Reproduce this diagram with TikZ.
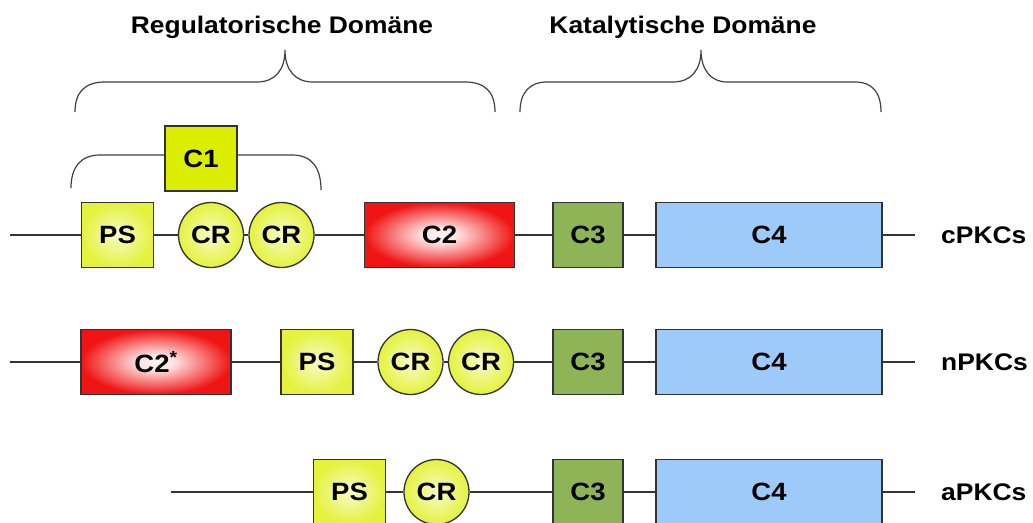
\documentclass[tikz,border=0pt]{standalone}
\usepackage{fontspec}
\setmainfont[FakeStretch=1.1]{Liberation Sans}
\newcommand\lbl{\fontsize{24}{28}\selectfont\bfseries}
\newcommand\boxlbl{\fontsize{25}{29}\selectfont\bfseries}
\definecolor{redo}{RGB}{240,20,20}
\definecolor{ylwo}{RGB}{228,242,60}
\pgfdeclareradialshading{redglow}{\pgfpoint{0bp}{0bp}}{color(0bp)=(red!4!white); color(6bp)=(red!12!white); color(25bp)=(redo); color(50bp)=(redo)}
\pgfdeclareradialshading{ylwglow}{\pgfpoint{0bp}{0bp}}{color(0bp)=(ylwo!25!white); color(6bp)=(ylwo!45!white); color(25bp)=(ylwo); color(50bp)=(ylwo)}
\tikzset{
  base/.style={draw=black!80, line width=1.3pt, inner sep=0pt, font=\boxlbl},
  ylw/.style={base, shading=ylwglow},
  psbox/.style={ylw, minimum width=72pt, minimum height=65pt},
  crcirc/.style={ylw, circle, minimum size=65pt},
  cbox/.style={base, fill={rgb,255:red,220;green,238;blue,0}, minimum width=72pt, minimum height=65pt},
  redbox/.style={base, shading=redglow, minimum width=150pt, minimum height=65pt},
  grnbox/.style={base, fill={rgb,255:red,143;green,180;blue,88}, minimum width=70pt, minimum height=65pt},
  blubox/.style={base, fill={rgb,255:red,158;green,202;blue,250}, minimum width=226pt, minimum height=65pt},
  conn/.style={draw=black!80, line width=1.3pt},
  brace/.style={draw=black!75, line width=1.2pt},
  rowlbl/.style={font=\lbl, anchor=west, inner sep=0pt},
  title/.style={font=\lbl, anchor=base, inner sep=0pt}
}
\begin{document}
\begin{tikzpicture}[x=1pt,y=-1pt]
\useasboundingbox (0,0) rectangle (1033,522);
\clip (0,0) rectangle (1033,522);
\fill[white] (0,0) rectangle (1033,522);

% titles
\node[title] (treg) at (282,33) {Regulatorische Domäne};
\node[title] (tkat) at (683,33) {Katalytische Domäne};

% big braces
\draw[brace] (75,112) .. controls (75,92) and (85,82) .. (105,82) -- (257,82)
  .. controls (275,82) and (285,70) .. (285,50)
  .. controls (285,70) and (295,82) .. (313,82) -- (465,82)
  .. controls (485,82) and (495,92) .. (495,112);
\draw[brace] (520,112) .. controls (520,92) and (530,82) .. (547,82) -- (673,82)
  .. controls (691,82) and (701,70) .. (701,50)
  .. controls (701,70) and (711,82) .. (727,82) -- (855,82)
  .. controls (872,82) and (881,92) .. (881,112);

% row 1
\coordinate (s1) at (10,235);
\coordinate (e1) at (915,235);
\node[cbox] (C1) at (201,158.5) {C1};
\node[psbox] (PS1) at (117.5,235) {PS};
\node[crcirc] (CR1a) at (211,235) {CR};
\node[crcirc] (CR1b) at (281.5,235) {CR};
\node[redbox] (C2a) at (439.5,235) {C2};
\node[grnbox] (C3a) at (588,235) {C3};
\node[blubox] (C4a) at (769,235) {C4};
\node[rowlbl] (L1) at (941,235) {cPKCs};
\draw[conn] (s1) -- (PS1);
\draw[conn] (PS1) -- (CR1a);
\draw[conn] (CR1a) -- (CR1b);
\draw[conn] (CR1b) -- (C2a);
\draw[conn] (C2a) -- (C3a);
\draw[conn] (C3a) -- (C4a);
\draw[conn] (C4a) -- (e1);
% C1 bracket
\draw[brace] (71,188) .. controls (71,168) and (80,155) .. (100,155) -- (C1.west |- 0,155);
\draw[brace] (C1.east |- 0,155) -- (292,155) .. controls (312,155) and (321,168) .. (321,190);

% row 2
\coordinate (s2) at (10,362);
\coordinate (e2) at (915,362);
\node[redbox] (C2b) at (156,362) {C2\textsuperscript{*}};
\node[psbox] (PS2) at (317,362) {PS};
\node[crcirc] (CR2a) at (410.5,362) {CR};
\node[crcirc] (CR2b) at (481,362) {CR};
\node[grnbox] (C3b) at (588,362) {C3};
\node[blubox] (C4b) at (769,362) {C4};
\node[rowlbl] (L2) at (941,362) {nPKCs};
\draw[conn] (s2) -- (C2b);
\draw[conn] (C2b) -- (PS2);
\draw[conn] (PS2) -- (CR2a);
\draw[conn] (CR2a) -- (CR2b);
\draw[conn] (CR2b) -- (C3b);
\draw[conn] (C3b) -- (C4b);
\draw[conn] (C4b) -- (e2);

% row 3
\coordinate (s3) at (171,492);
\coordinate (e3) at (915,492);
\node[psbox] (PS3) at (349.5,492) {PS};
\node[crcirc] (CR3) at (436.5,492) {CR};
\node[grnbox] (C3c) at (588,492) {C3};
\node[blubox] (C4c) at (769,492) {C4};
\node[rowlbl] (L3) at (941,492) {aPKCs};
\draw[conn] (s3) -- (PS3);
\draw[conn] (PS3) -- (CR3);
\draw[conn] (CR3) -- (C3c);
\draw[conn] (C3c) -- (C4c);
\draw[conn] (C4c) -- (e3);
\end{tikzpicture}
\end{document}
